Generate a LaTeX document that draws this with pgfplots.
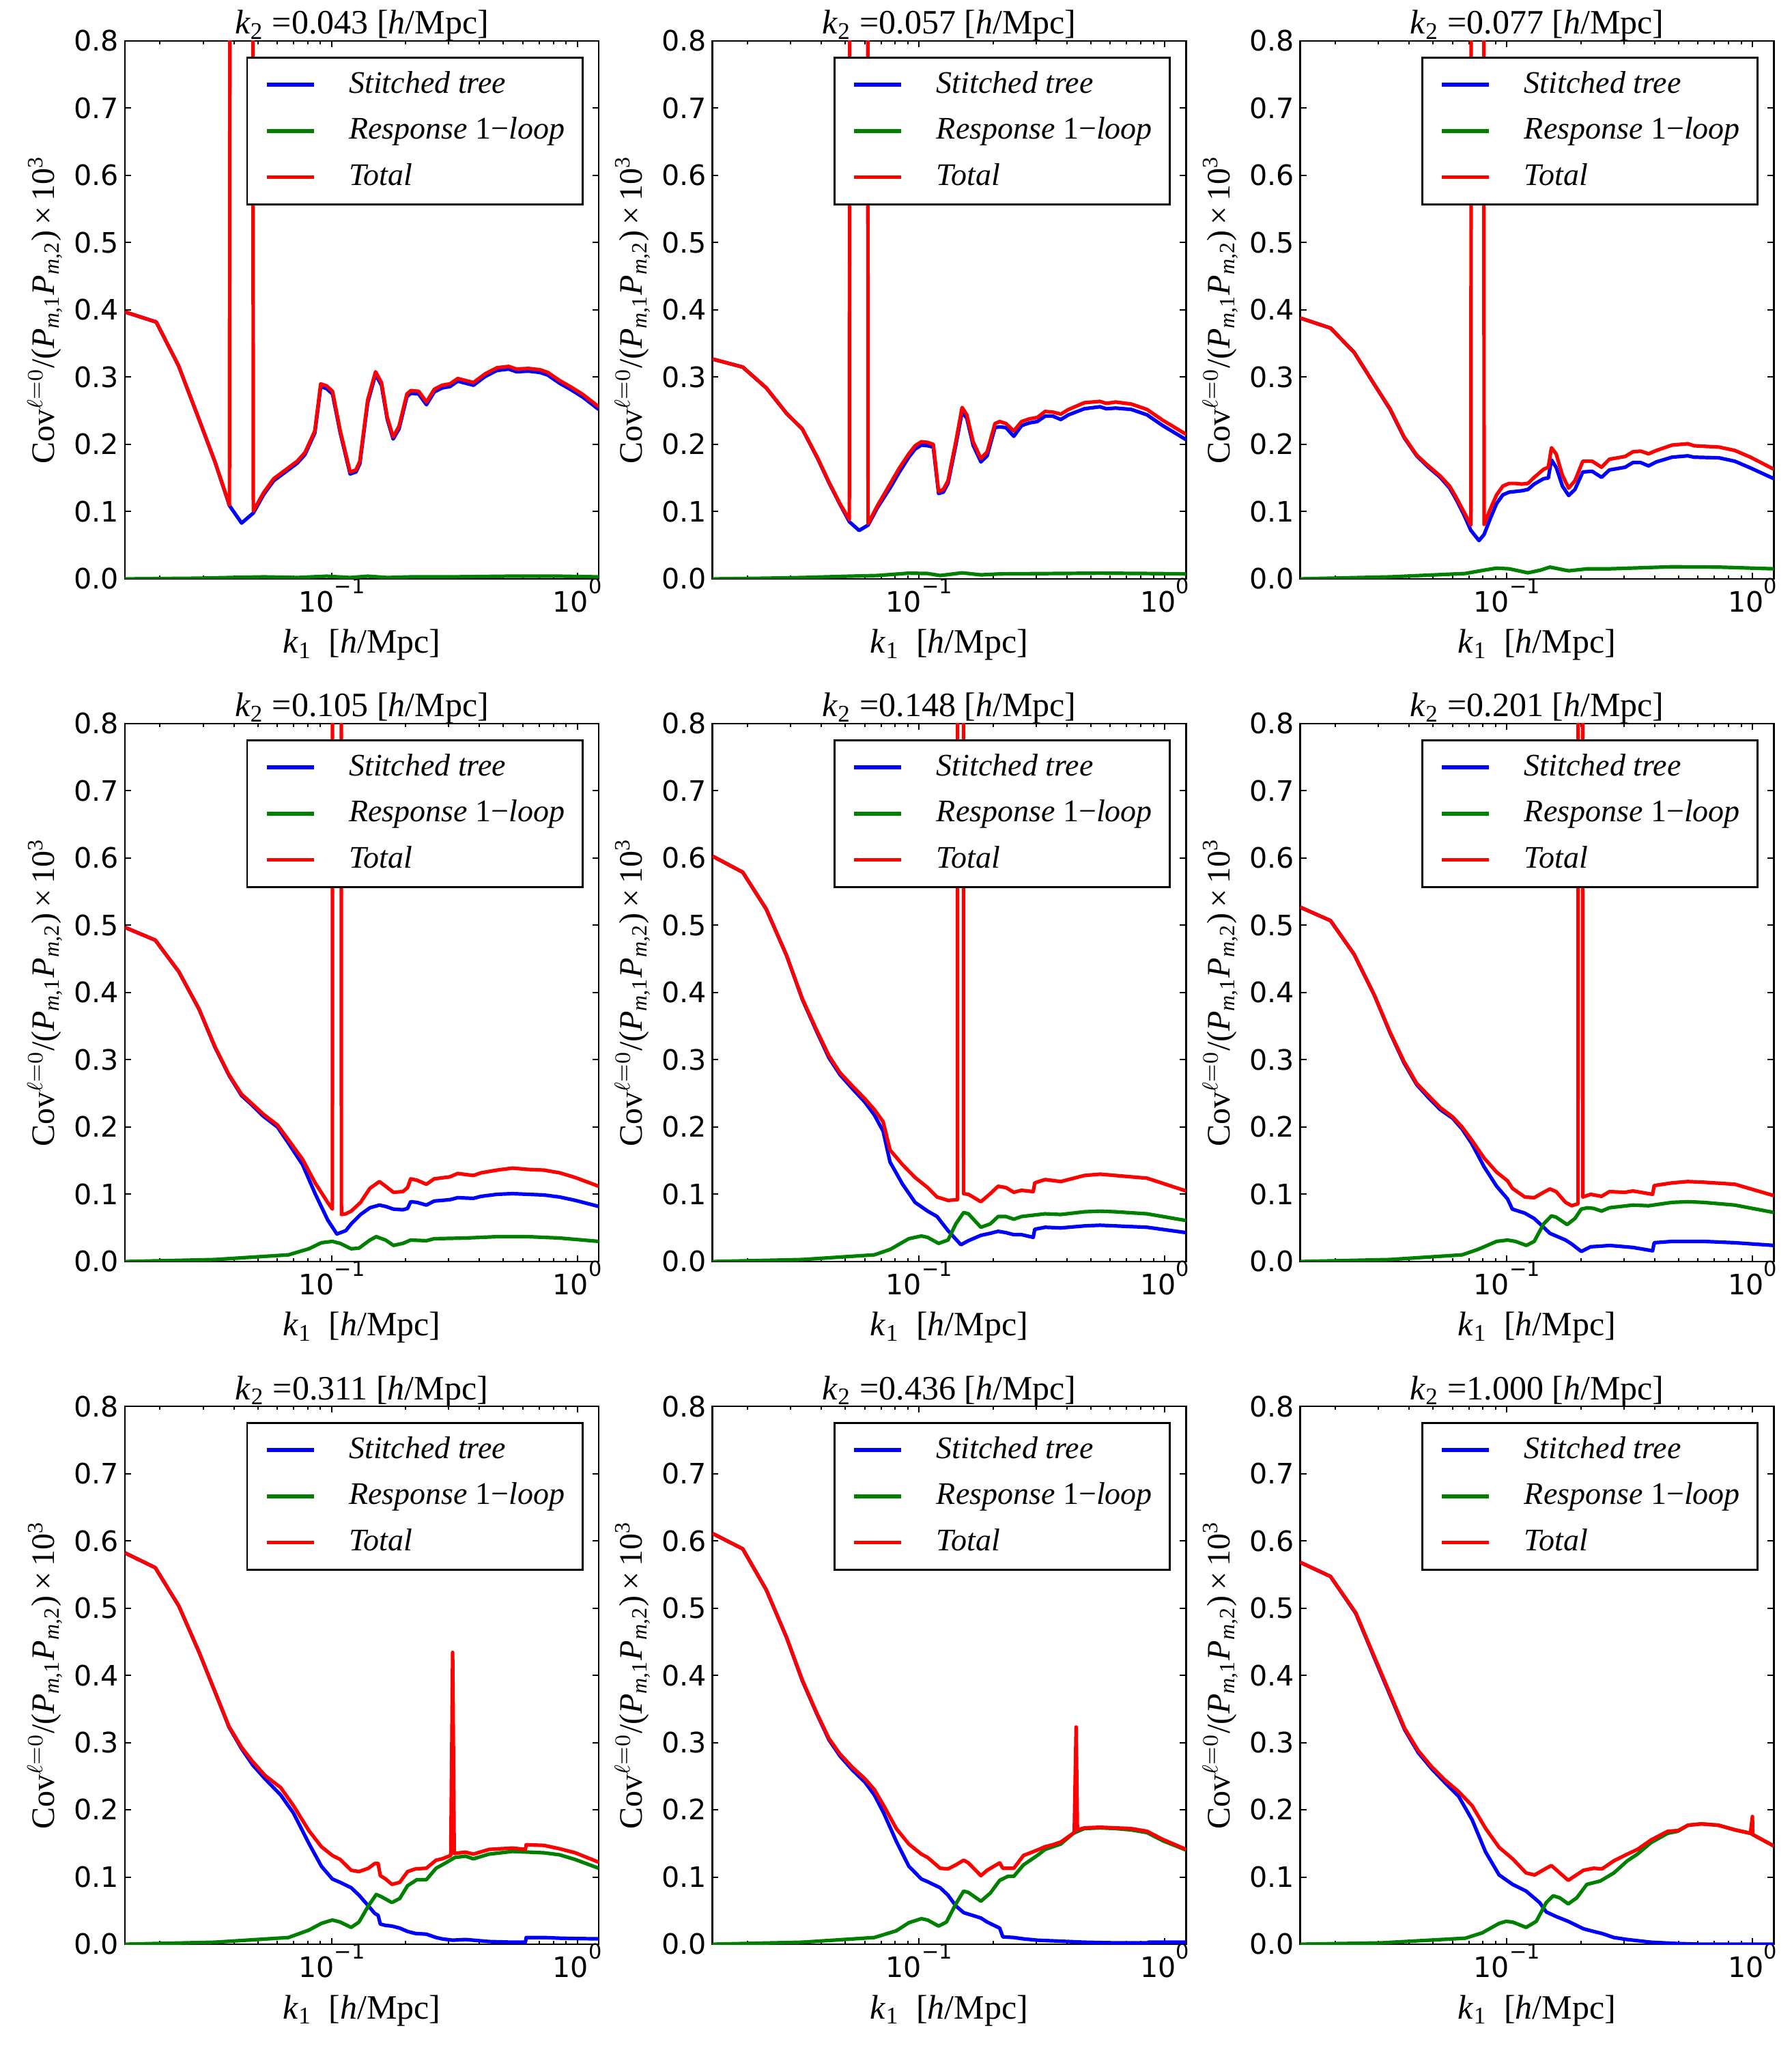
\documentclass[border=0pt]{standalone}
\usepackage{fontspec}
\setmainfont{Liberation Serif}
\newfontfamily\tickfont{DejaVu Sans}
\usepackage{pgfplots}
\pgfplotsset{compat=1.18}
\definecolor{mblue}{RGB}{0,0,255}
\definecolor{mgreen}{RGB}{0,128,0}
\definecolor{mred}{RGB}{255,0,0}
\newcommand{\labfont}{\fontsize{12.5}{15}\selectfont}
\newcommand{\ylfont}{\fontsize{12}{14}\selectfont}
\newcommand{\tfont}{\tickfont\fontsize{10.3}{12}\selectfont}
\newcommand{\lgfont}{\fontsize{11.5}{13}\selectfont}
\newcommand{\ktwo}[1]{\textit{k}\textsubscript{2} =#1 [\textit{h}/Mpc]}
\newcommand{\tsup}[1]{\raisebox{6.8pt}{\fontsize{7.6}{8}\selectfont #1}}
\tikzset{
 bl/.style={color=mblue, line width=1.3pt, line join=round},
 gr/.style={color=mgreen, line width=1.3pt, line join=round},
 rd/.style={color=mred, line width=1.3pt, line join=round},
}
\pgfplotsset{
  ymin=0, ymax=0.8,
  scale only axis, width=173.5pt, height=197pt,
  ytick={0,0.1,0.2,0.3,0.4,0.5,0.6,0.7,0.8},
  yticklabels={0.0,0.1,0.2,0.3,0.4,0.5,0.6,0.7,0.8},
  xtick={0.1,1}, xticklabels={10\tsup{−1},10\tsup{0}},
  minor xtick={0.02,0.03,0.04,0.05,0.06,0.07,0.08,0.09,0.2,0.3,0.4,0.5,0.6,0.7,0.8,0.9},
  tick align=inside, xtick pos=both, ytick pos=both,
  major tick length=2.25pt, minor tick length=1.2pt,
  tick style={black, line width=0.5pt},
  axis line style={line width=0.7pt},
  ticklabel style={font=\tfont},
  yticklabel style={inner sep=0pt, xshift=-2pt},
  xticklabel style={inner sep=0pt, anchor=base, yshift=-12.25pt},
  title style={at={(0.5,1)}, anchor=base, yshift=-3.5pt, font=\labfont},
  xlabel={\textit{k}\textsubscript{1}\ \ [\textit{h}/Mpc]},
  xlabel style={at={(axis description cs:0.5,0)}, anchor=base, yshift=-27.25pt, font=\labfont},
  ylabel={Cov$^{\ell=0}$/(\textit{P}\textsubscript{\textit{m},1}\textit{P}\textsubscript{\textit{m},2})\,×\,10\textsuperscript{3}},
  ylabel style={at={(axis description cs:-0.149,0.5)}, anchor=base, font=\ylfont},
  legend cell align=left,
  legend style={at={(rel axis cs:0.968,0.971)}, anchor=north east, draw=black, line width=0.7pt,
    fill=white, inner xsep=6.5pt, inner ysep=4.5pt, row sep=5.9pt, font=\lgfont,
    nodes={inner sep=0pt, text height=8.5pt, text depth=2.5pt}},
  legend image code/.code={\draw[#1,line width=1.4pt] (0pt,0pt) -- (17.25pt,0pt); \path (29.5pt,0pt);},
}
\newcommand{\legs}{\legend{\textit{Stitched tree},\textit{Response} 1−\textit{loop},\textit{Total}}}
\begin{document}
\begin{tikzpicture}
\useasboundingbox (0,0) rectangle (656.25pt,750pt);
% ---------- panel 1
\begin{semilogxaxis}[xmin=0.01439, xmax=1.223, title={\ktwo{0.043}}, at={(45.75pt,538pt)}, anchor=south west]
\addplot[bl] coordinates {(0.01439,0.397)(0.01930,0.382)(0.02379,0.317)(0.02891,0.236)(0.03348,0.174)(0.03835,0.109)(0.04298,0.083)(0.04798,0.098)(0.05298,0.126)(0.05808,0.146)(0.06483,0.159)(0.07241,0.172)(0.07791,0.185)(0.08540,0.217)(0.09024,0.286)(0.09537,0.283)(0.1008,0.275)(0.1084,0.217)(0.1189,0.156)(0.1256,0.159)(0.1302,0.171)(0.1402,0.262)(0.1509,0.304)(0.1595,0.288)(0.1685,0.237)(0.1780,0.208)(0.1881,0.223)(0.2025,0.271)(0.2101,0.276)(0.2261,0.275)(0.2432,0.259)(0.2618,0.278)(0.2818,0.284)(0.3032,0.286)(0.3264,0.294)(0.3513,0.291)(0.3781,0.288)(0.4220,0.301)(0.4712,0.310)(0.5260,0.312)(0.5661,0.308)(0.6321,0.309)(0.7059,0.307)(0.7594,0.303)(0.8478,0.291)(0.9467,0.281)(1.057,0.270)(1.223,0.252)};
\addplot[gr] coordinates {(0.01439,0.000)(0.02891,0.001)(0.03835,0.002)(0.05298,0.003)(0.07241,0.002)(0.09537,0.004)(0.1189,0.002)(0.1402,0.004)(0.1685,0.002)(0.2101,0.003)(0.3032,0.003)(0.5260,0.004)(0.8478,0.004)(1.223,0.003)};
\addplot[rd] coordinates {(0.01439,0.397)(0.01930,0.382)(0.02379,0.317)(0.02891,0.236)(0.03348,0.174)(0.03835,0.110)(0.043,20)(0.04798,0.101)(0.05298,0.129)(0.05808,0.149)(0.06483,0.162)(0.07241,0.175)(0.07791,0.188)(0.08540,0.220)(0.09024,0.290)(0.09537,0.287)(0.1008,0.279)(0.1084,0.220)(0.1189,0.159)(0.1256,0.162)(0.1302,0.175)(0.1402,0.266)(0.1509,0.308)(0.1595,0.292)(0.1685,0.240)(0.1780,0.211)(0.1881,0.227)(0.2025,0.275)(0.2101,0.280)(0.2261,0.279)(0.2432,0.263)(0.2618,0.282)(0.2818,0.288)(0.3032,0.290)(0.3264,0.298)(0.3513,0.295)(0.3781,0.292)(0.4220,0.305)(0.4712,0.314)(0.5260,0.316)(0.5661,0.312)(0.6321,0.313)(0.7059,0.311)(0.7594,0.307)(0.8478,0.295)(0.9467,0.285)(1.057,0.274)(1.223,0.256)};
\legs
\end{semilogxaxis}
% ---------- panel 2
\begin{semilogxaxis}[xmin=0.01439, xmax=1.223, title={\ktwo{0.057}}, at={(260.875pt,538pt)}, anchor=south west]
\addplot[bl] coordinates {(0.01439,0.327)(0.01913,0.315)(0.02386,0.284)(0.02887,0.246)(0.03344,0.223)(0.03873,0.178)(0.04293,0.143)(0.04759,0.111)(0.05198,0.085)(0.057,0.072)(0.06199,0.080)(0.06769,0.106)(0.07614,0.135)(0.08315,0.159)(0.09082,0.181)(0.09631,0.193)(0.10216,0.199)(0.10834,0.198)(0.11422,0.196)(0.12007,0.127)(0.12548,0.129)(0.13113,0.142)(0.14112,0.199)(0.14966,0.248)(0.15640,0.239)(0.16587,0.199)(0.17851,0.174)(0.18931,0.183)(0.20373,0.225)(0.21291,0.226)(0.22579,0.225)(0.24299,0.212)(0.26150,0.228)(0.28143,0.232)(0.30288,0.234)(0.32595,0.242)(0.35079,0.242)(0.37752,0.237)(0.40629,0.244)(0.47090,0.253)(0.54520,0.256)(0.57821,0.253)(0.63157,0.254)(0.73146,0.252)(0.84737,0.244)(0.98161,0.228)(1.223,0.207)};
\addplot[gr] coordinates {(0.01439,0)(0.02386,0.001)(0.03344,0.002)(0.05198,0.004)(0.06769,0.005)(0.09082,0.0085)(0.10834,0.008)(0.12185,0.005)(0.14966,0.009)(0.17851,0.006)(0.21291,0.0074)(0.35079,0.008)(0.54520,0.0085)(0.84737,0.008)(1.223,0.0074)};
\addplot[rd] coordinates {(0.01439,0.327)(0.01913,0.315)(0.02386,0.284)(0.02887,0.246)(0.03344,0.223)(0.03873,0.179)(0.04293,0.144)(0.04759,0.112)(0.05198,0.088)(0.057,20)(0.06199,0.082)(0.06769,0.109)(0.07614,0.141)(0.08315,0.165)(0.09082,0.186)(0.09631,0.198)(0.10216,0.204)(0.10834,0.203)(0.11422,0.200)(0.12007,0.130)(0.12548,0.133)(0.13113,0.146)(0.14112,0.204)(0.14966,0.255)(0.15640,0.244)(0.16587,0.204)(0.17851,0.179)(0.18931,0.189)(0.20373,0.231)(0.21291,0.234)(0.22579,0.231)(0.24299,0.220)(0.26150,0.234)(0.28143,0.238)(0.30288,0.240)(0.32595,0.249)(0.35079,0.248)(0.37752,0.245)(0.40629,0.252)(0.47090,0.262)(0.54520,0.264)(0.57821,0.261)(0.63157,0.263)(0.73146,0.260)(0.84737,0.252)(0.98161,0.236)(1.223,0.215)};
\legs
\end{semilogxaxis}
% ---------- panel 3
\begin{semilogxaxis}[xmin=0.01439, xmax=1.223, title={\ktwo{0.077}}, at={(476.125pt,538pt)}, anchor=south west]
\addplot[bl] coordinates {(0.01439,0.388)(0.01913,0.373)(0.02386,0.337)(0.02887,0.289)(0.03344,0.252)(0.03817,0.210)(0.04293,0.183)(0.04759,0.167)(0.05353,0.151)(0.05845,0.135)(0.06199,0.119)(0.06671,0.096)(0.07137,0.072)(0.077,0.057)(0.08075,0.066)(0.08564,0.090)(0.09082,0.112)(0.09631,0.125)(0.10216,0.129)(0.10834,0.130)(0.11489,0.131)(0.12185,0.133)(0.12922,0.141)(0.14112,0.149)(0.14748,0.150)(0.15187,0.177)(0.15872,0.166)(0.16832,0.138)(0.17851,0.124)(0.18931,0.133)(0.20373,0.159)(0.22250,0.160)(0.24299,0.151)(0.26150,0.162)(0.30288,0.166)(0.32595,0.173)(0.35079,0.173)(0.37752,0.168)(0.40629,0.174)(0.47090,0.181)(0.54520,0.183)(0.57821,0.181)(0.73146,0.180)(0.84737,0.175)(0.98161,0.165)(1.223,0.149)};
\addplot[gr] coordinates {(0.01439,0)(0.03344,0.003)(0.06769,0.008)(0.08075,0.013)(0.09082,0.016)(0.10216,0.015)(0.12185,0.009)(0.13703,0.013)(0.14966,0.0175)(0.17851,0.012)(0.21291,0.015)(0.26150,0.015)(0.47090,0.018)(0.73146,0.0175)(1.223,0.015)};
\addplot[rd] coordinates {(0.01439,0.388)(0.01913,0.373)(0.02386,0.337)(0.02887,0.289)(0.03344,0.253)(0.03817,0.211)(0.04293,0.184)(0.04759,0.169)(0.05353,0.153)(0.05845,0.138)(0.06199,0.122)(0.06671,0.100)(0.07137,0.080)(0.077,20)(0.08075,0.081)(0.08564,0.104)(0.09082,0.125)(0.09631,0.138)(0.10216,0.142)(0.10834,0.142)(0.11489,0.141)(0.12185,0.142)(0.12922,0.151)(0.14112,0.163)(0.14748,0.166)(0.15187,0.195)(0.15872,0.186)(0.16832,0.154)(0.17851,0.135)(0.18931,0.146)(0.20373,0.175)(0.22250,0.175)(0.24299,0.166)(0.26150,0.178)(0.30288,0.182)(0.32595,0.189)(0.35079,0.190)(0.37752,0.186)(0.40629,0.191)(0.47090,0.199)(0.54520,0.201)(0.57821,0.198)(0.73146,0.196)(0.84737,0.191)(0.98161,0.181)(1.223,0.163)};
\legs
\end{semilogxaxis}
% ---------- panel 4
\begin{semilogxaxis}[xmin=0.01439, xmax=1.223, title={\ktwo{0.105}}, at={(45.75pt,288pt)}, anchor=south west]
\addplot[bl] coordinates {(0.01439,0.497)(0.01913,0.478)(0.02386,0.431)(0.02887,0.375)(0.03344,0.319)(0.03817,0.277)(0.04293,0.247)(0.04759,0.232)(0.05275,0.216)(0.06019,0.200)(0.06671,0.176)(0.07614,0.144)(0.08564,0.101)(0.09631,0.062)(0.105,0.041)(0.11422,0.046)(0.12007,0.056)(0.13113,0.070)(0.14320,0.080)(0.15640,0.084)(0.16587,0.082)(0.17851,0.078)(0.19495,0.077)(0.20373,0.079)(0.20980,0.089)(0.22250,0.088)(0.24299,0.084)(0.26150,0.090)(0.30288,0.092)(0.32595,0.095)(0.37752,0.094)(0.40629,0.097)(0.47090,0.100)(0.54520,0.101)(0.63157,0.100)(0.73146,0.099)(0.84737,0.096)(0.98161,0.091)(1.223,0.082)};
\addplot[gr] coordinates {(0.01439,0)(0.03344,0.003)(0.06671,0.010)(0.08075,0.019)(0.09082,0.028)(0.10065,0.030)(0.10834,0.027)(0.12007,0.019)(0.12922,0.020)(0.14320,0.032)(0.15187,0.037)(0.16587,0.032)(0.17851,0.024)(0.19495,0.027)(0.20980,0.032)(0.24299,0.031)(0.26150,0.034)(0.35079,0.035)(0.47090,0.037)(0.63157,0.037)(0.84737,0.035)(1.223,0.030)};
\addplot[rd] coordinates {(0.01439,0.497)(0.01913,0.478)(0.02386,0.431)(0.02887,0.375)(0.03344,0.320)(0.03817,0.278)(0.04293,0.249)(0.04759,0.234)(0.05275,0.219)(0.06019,0.203)(0.06671,0.181)(0.07614,0.152)(0.08564,0.117)(0.09631,0.088)(0.10065,0.078)(0.105,20)(0.1096,0.070)(0.11422,0.071)(0.12007,0.075)(0.13113,0.088)(0.14320,0.109)(0.15640,0.119)(0.16587,0.112)(0.17851,0.103)(0.19495,0.104)(0.20373,0.110)(0.20980,0.123)(0.22250,0.121)(0.24299,0.115)(0.26150,0.123)(0.30288,0.126)(0.32595,0.131)(0.37752,0.128)(0.40629,0.132)(0.47090,0.136)(0.54520,0.139)(0.63157,0.137)(0.73146,0.136)(0.84737,0.132)(0.98161,0.125)(1.223,0.112)};
\legs
\end{semilogxaxis}
% ---------- panel 5
\begin{semilogxaxis}[xmin=0.01439, xmax=1.223, title={\ktwo{0.148}}, at={(260.875pt,288pt)}, anchor=south west]
\addplot[bl] coordinates {(0.01439,0.603)(0.01913,0.579)(0.02386,0.524)(0.02887,0.455)(0.03344,0.390)(0.03817,0.343)(0.04293,0.303)(0.04759,0.278)(0.05353,0.257)(0.06019,0.237)(0.06573,0.218)(0.07137,0.194)(0.07614,0.148)(0.08564,0.115)(0.09631,0.088)(0.10834,0.075)(0.11832,0.067)(0.13113,0.046)(0.148,0.025)(0.15872,0.031)(0.17851,0.039)(0.19495,0.042)(0.20980,0.045)(0.22579,0.043)(0.24299,0.040)(0.26150,0.040)(0.29153,0.036)(0.29584,0.048)(0.32595,0.051)(0.37752,0.050)(0.47090,0.053)(0.54520,0.054)(0.63157,0.053)(0.84737,0.051)(1.223,0.043)};
\addplot[gr] coordinates {(0.01439,0)(0.03344,0.003)(0.06573,0.010)(0.07614,0.018)(0.09082,0.034)(0.10216,0.038)(0.10834,0.036)(0.12007,0.027)(0.13113,0.032)(0.14112,0.056)(0.15187,0.073)(0.15872,0.071)(0.17851,0.051)(0.19495,0.056)(0.20980,0.067)(0.22579,0.067)(0.24299,0.063)(0.26150,0.067)(0.32595,0.071)(0.37752,0.070)(0.47090,0.074)(0.54520,0.075)(0.63157,0.074)(0.84737,0.071)(1.223,0.061)};
\addplot[rd] coordinates {(0.01439,0.603)(0.01913,0.579)(0.02386,0.524)(0.02887,0.455)(0.03344,0.391)(0.03817,0.345)(0.04293,0.306)(0.04759,0.281)(0.05353,0.261)(0.06019,0.242)(0.06573,0.226)(0.07137,0.208)(0.07614,0.166)(0.08564,0.144)(0.09631,0.125)(0.10834,0.110)(0.11832,0.096)(0.13113,0.091)(0.14320,0.092)(0.148,20)(0.15187,0.101)(0.15872,0.100)(0.17851,0.089)(0.19495,0.101)(0.20980,0.112)(0.22579,0.110)(0.24299,0.103)(0.26150,0.106)(0.29153,0.104)(0.29584,0.117)(0.32595,0.122)(0.37752,0.119)(0.47090,0.128)(0.54520,0.130)(0.63157,0.128)(0.84737,0.124)(1.223,0.105)};
\legs
\end{semilogxaxis}
% ---------- panel 6
\begin{semilogxaxis}[xmin=0.01439, xmax=1.223, title={\ktwo{0.201}}, at={(476.125pt,288pt)}, anchor=south west]
\addplot[bl] coordinates {(0.01439,0.527)(0.01913,0.507)(0.02386,0.457)(0.02887,0.396)(0.03344,0.340)(0.03817,0.295)(0.04293,0.263)(0.04759,0.245)(0.05353,0.226)(0.06019,0.213)(0.06573,0.197)(0.07180,0.176)(0.08075,0.141)(0.09082,0.112)(0.10065,0.093)(0.10520,0.078)(0.11832,0.072)(0.12922,0.064)(0.14112,0.051)(0.14966,0.042)(0.17334,0.032)(0.18383,0.026)(0.201,0.015)(0.21925,0.022)(0.24299,0.023)(0.26150,0.024)(0.30288,0.022)(0.32595,0.021)(0.39222,0.016)(0.39802,0.028)(0.47090,0.030)(0.54520,0.030)(0.63157,0.030)(0.84737,0.028)(1.223,0.024)};
\addplot[gr] coordinates {(0.01439,0)(0.03344,0.003)(0.06573,0.010)(0.07614,0.018)(0.09082,0.030)(0.10065,0.032)(0.10834,0.030)(0.12007,0.024)(0.12922,0.030)(0.14112,0.056)(0.15187,0.068)(0.15872,0.066)(0.17591,0.055)(0.18931,0.064)(0.20076,0.078)(0.21291,0.080)(0.22579,0.079)(0.24299,0.075)(0.26150,0.080)(0.32595,0.084)(0.37752,0.083)(0.47090,0.088)(0.54520,0.089)(0.63157,0.088)(0.84737,0.084)(1.223,0.073)};
\addplot[rd] coordinates {(0.01439,0.527)(0.01913,0.507)(0.02386,0.457)(0.02887,0.396)(0.03344,0.341)(0.03817,0.297)(0.04293,0.265)(0.04759,0.248)(0.05353,0.229)(0.06019,0.215)(0.06573,0.200)(0.07180,0.181)(0.08075,0.154)(0.09082,0.133)(0.10065,0.120)(0.10520,0.109)(0.11832,0.096)(0.12922,0.095)(0.14112,0.103)(0.14966,0.108)(0.15872,0.104)(0.17334,0.088)(0.18383,0.083)(0.19495,0.086)(0.201,20)(0.20373,0.096)(0.21925,0.100)(0.24299,0.097)(0.26150,0.104)(0.30288,0.103)(0.32595,0.105)(0.39222,0.100)(0.39802,0.113)(0.47090,0.117)(0.54520,0.119)(0.63157,0.118)(0.84737,0.115)(1.223,0.098)};
\legs
\end{semilogxaxis}
% ---------- panel 7
\begin{semilogxaxis}[xmin=0.01439, xmax=1.223, title={\ktwo{0.311}}, at={(45.75pt,38pt)}, anchor=south west]
\addplot[bl] coordinates {(0.01439,0.582)(0.01913,0.560)(0.02386,0.503)(0.02887,0.434)(0.03344,0.376)(0.03817,0.323)(0.04293,0.291)(0.04759,0.267)(0.05353,0.246)(0.06199,0.222)(0.06992,0.195)(0.08075,0.150)(0.09082,0.116)(0.10065,0.097)(0.10834,0.092)(0.12007,0.084)(0.12922,0.073)(0.14112,0.057)(0.14966,0.046)(0.15457,0.043)(0.15780,0.030)(0.16587,0.028)(0.17591,0.027)(0.18931,0.024)(0.20373,0.019)(0.21925,0.016)(0.24299,0.015)(0.26615,0.010)(0.28143,0.008)(0.311,0.006)(0.35079,0.007)(0.43740,0.004)(0.54520,0.003)(0.6151,0.003)(0.6200,0.010)(0.73146,0.010)(0.84737,0.009)(0.98161,0.0085)(1.223,0.008)};
\addplot[gr] coordinates {(0.01439,0)(0.03344,0.003)(0.06671,0.010)(0.08075,0.021)(0.09082,0.031)(0.10065,0.036)(0.10834,0.033)(0.12007,0.025)(0.12922,0.033)(0.14112,0.057)(0.15187,0.074)(0.15872,0.071)(0.17591,0.062)(0.18931,0.068)(0.20373,0.087)(0.22250,0.096)(0.24299,0.096)(0.26615,0.113)(0.29153,0.121)(0.31749,0.129)(0.35079,0.131)(0.37752,0.127)(0.43740,0.134)(0.54520,0.138)(0.63157,0.137)(0.73146,0.136)(0.84737,0.133)(0.98161,0.126)(1.223,0.113)};
\addplot[rd] coordinates {(0.01439,0.582)(0.01913,0.560)(0.02386,0.503)(0.02887,0.434)(0.03344,0.376)(0.03817,0.324)(0.04293,0.293)(0.04759,0.272)(0.05353,0.251)(0.06199,0.233)(0.06992,0.206)(0.08075,0.169)(0.09082,0.145)(0.10065,0.132)(0.10834,0.126)(0.12007,0.110)(0.12922,0.108)(0.14112,0.113)(0.14966,0.120)(0.15457,0.120)(0.15780,0.102)(0.16587,0.097)(0.17591,0.089)(0.18931,0.092)(0.20373,0.108)(0.21925,0.112)(0.24299,0.113)(0.26615,0.125)(0.28143,0.127)(0.30556,0.132)(0.311,0.434)(0.31563,0.135)(0.35079,0.137)(0.37752,0.134)(0.43740,0.141)(0.54520,0.143)(0.6151,0.141)(0.6200,0.148)(0.73146,0.147)(0.84737,0.142)(0.98161,0.136)(1.223,0.122)};
\legs
\end{semilogxaxis}
% ---------- panel 8
\begin{semilogxaxis}[xmin=0.01439, xmax=1.223, title={\ktwo{0.436}}, at={(260.875pt,38pt)}, anchor=south west]
\addplot[bl] coordinates {(0.01439,0.611)(0.01913,0.588)(0.02386,0.527)(0.02887,0.456)(0.03344,0.392)(0.03817,0.344)(0.04293,0.304)(0.04759,0.280)(0.05353,0.259)(0.06019,0.241)(0.06573,0.222)(0.07180,0.195)(0.08075,0.153)(0.09082,0.116)(0.10216,0.097)(0.10834,0.093)(0.12185,0.084)(0.13113,0.073)(0.14112,0.057)(0.15187,0.047)(0.17851,0.039)(0.18931,0.033)(0.21291,0.024)(0.21925,0.011)(0.24299,0.010)(0.26615,0.008)(0.30288,0.006)(0.35079,0.005)(0.47090,0.003)(0.63157,0.002)(0.84737,0.002)(0.86,0.003)(1.223,0.003)};
\addplot[gr] coordinates {(0.01439,0)(0.03344,0.003)(0.06573,0.010)(0.08075,0.020)(0.09082,0.032)(0.10216,0.038)(0.10834,0.036)(0.12007,0.027)(0.12922,0.033)(0.14112,0.060)(0.15187,0.079)(0.15872,0.077)(0.17851,0.064)(0.19495,0.076)(0.21291,0.095)(0.23,0.101)(0.24299,0.101)(0.26615,0.118)(0.30288,0.132)(0.32595,0.141)(0.35079,0.145)(0.37752,0.149)(0.42461,0.165)(0.47090,0.172)(0.54520,0.173)(0.63157,0.172)(0.73146,0.170)(0.84737,0.166)(0.98161,0.154)(1.223,0.140)};
\addplot[rd] coordinates {(0.01439,0.611)(0.01913,0.588)(0.02386,0.527)(0.02887,0.456)(0.03344,0.393)(0.03817,0.345)(0.04293,0.306)(0.04759,0.283)(0.05353,0.263)(0.06019,0.246)(0.06573,0.230)(0.07180,0.206)(0.08075,0.172)(0.09082,0.149)(0.10216,0.134)(0.10834,0.129)(0.12185,0.113)(0.13113,0.112)(0.14112,0.118)(0.15187,0.125)(0.15872,0.121)(0.17851,0.102)(0.18931,0.110)(0.21291,0.121)(0.21925,0.113)(0.24299,0.113)(0.26615,0.132)(0.30288,0.140)(0.32595,0.145)(0.35079,0.148)(0.37752,0.152)(0.42838,0.166)(0.436,0.323)(0.44128,0.170)(0.47090,0.173)(0.54520,0.174)(0.63157,0.173)(0.73146,0.172)(0.84737,0.168)(0.98161,0.156)(1.223,0.141)};
\legs
\end{semilogxaxis}
% ---------- panel 9
\begin{semilogxaxis}[xmin=0.01439, xmax=1.223, title={\ktwo{1.000}}, at={(476.125pt,38pt)}, anchor=south west]
\addplot[bl] coordinates {(0.01439,0.568)(0.01912,0.547)(0.02424,0.492)(0.03073,0.402)(0.03835,0.319)(0.04353,0.285)(0.04938,0.261)(0.05607,0.240)(0.06361,0.220)(0.07220,0.185)(0.08195,0.137)(0.09299,0.103)(0.1055,0.089)(0.1198,0.079)(0.1359,0.062)(0.1447,0.048)(0.1592,0.041)(0.1778,0.034)(0.2050,0.023)(0.2254,0.019)(0.2440,0.016)(0.2726,0.010)(0.3093,0.007)(0.3861,0.003)(0.4971,0.001)(0.6204,0.000)(1.223,0.000)};
\addplot[gr] coordinates {(0.01439,0)(0.03073,0.002)(0.06777,0.009)(0.07940,0.017)(0.09299,0.031)(0.09906,0.034)(0.1055,0.033)(0.1198,0.025)(0.1317,0.034)(0.1447,0.062)(0.1543,0.072)(0.1643,0.069)(0.1778,0.060)(0.1925,0.069)(0.2117,0.089)(0.2401,0.094)(0.2726,0.106)(0.3093,0.124)(0.3401,0.134)(0.3861,0.151)(0.4520,0.165)(0.4971,0.168)(0.5466,0.177)(0.6204,0.179)(0.7263,0.177)(0.8511,0.170)(0.9813,0.165)(1.223,0.146)};
\addplot[rd] coordinates {(0.01439,0.568)(0.01912,0.547)(0.02424,0.493)(0.03073,0.404)(0.03835,0.321)(0.04353,0.288)(0.04938,0.264)(0.05607,0.244)(0.06361,0.227)(0.07220,0.206)(0.08195,0.172)(0.09299,0.144)(0.1055,0.127)(0.1198,0.106)(0.1297,0.103)(0.1447,0.113)(0.1518,0.117)(0.1643,0.106)(0.1778,0.095)(0.2050,0.110)(0.2254,0.113)(0.2440,0.112)(0.2726,0.124)(0.3093,0.134)(0.3401,0.141)(0.3861,0.155)(0.4520,0.168)(0.4971,0.169)(0.5466,0.177)(0.6204,0.179)(0.7263,0.177)(0.8511,0.170)(0.9813,0.165)(1.0,0.190)(1.003,0.163)(1.223,0.146)};
\legs
\end{semilogxaxis}
\end{tikzpicture}
\end{document}
